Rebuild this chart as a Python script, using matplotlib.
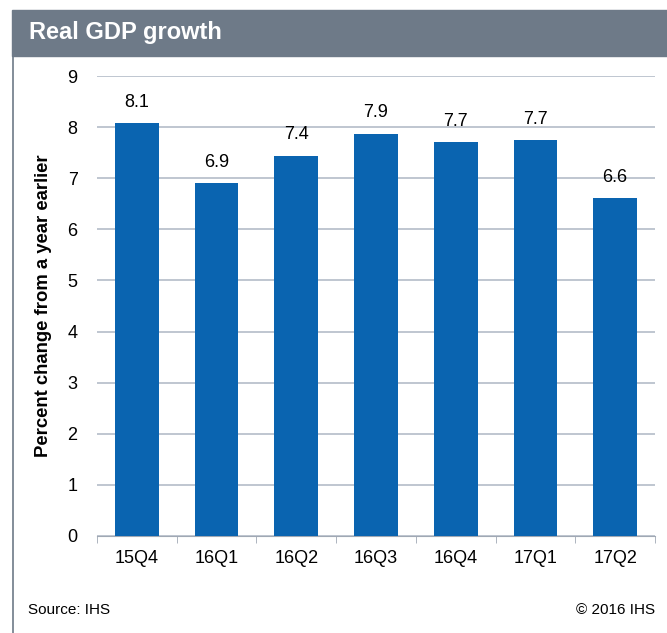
import matplotlib.pyplot as plt
from matplotlib.patches import Rectangle
from matplotlib.lines import Line2D
import numpy as np

plt.rcParams["font.family"] = ["Liberation Sans", "DejaVu Sans"]

quarters = ["15Q4", "16Q1", "16Q2", "16Q3", "16Q4", "17Q1", "17Q2"]
growth = [8.08, 6.91, 7.44, 7.87, 7.70, 7.74, 6.61]
yticks = [0, 1, 2, 3, 4, 5, 6, 7, 8, 9]

W, H = 667, 633
fig = plt.figure(figsize=(W / 100, H / 100), dpi=100)

# title bar and frame line
fig.patches.append(Rectangle((12 / W, 1 - 56 / H), 1 - 12 / W, 46 / H,
                             transform=fig.transFigure, color="#6e7a88", zorder=0))
fig.lines.append(Line2D([12.5 / W, 12.5 / W], [0, 1 - 56 / H],
                        transform=fig.transFigure, color="#6e7a88", lw=1.2))
fig.text(29 / W, 1 - 33 / H, "Real GDP growth", color="white", fontsize=17,
         fontweight="bold", va="center", ha="left")

ax = fig.add_axes([97 / W, 1 - 536 / H, 558 / W, 460 / H])
x = np.arange(len(quarters))
ax.bar(x, growth, width=0.55, color="#0a64b0", zorder=3)
for xi, v in zip(x, growth):
    ax.text(xi, v + 0.24, f"{v:.1f}", ha="center", va="bottom", fontsize=13)

ax.set_xlim(-0.5, len(quarters) - 0.5)
ax.set_ylim(0, 9)
ax.set_yticks(yticks)
ax.yaxis.grid(True, color="#b4bcc8", lw=1.2, zorder=0)
ax.tick_params(axis="y", length=0, labelsize=13, pad=14)
ax.set_xticks(x)
ax.set_xticklabels(quarters)
ax.set_xticks(np.arange(-0.5, len(quarters)), minor=True)
ax.tick_params(axis="x", which="major", length=0, labelsize=13, pad=10)
ax.tick_params(axis="x", which="minor", length=5, color="#a0a8b4")
for s in ["top", "right", "left"]:
    ax.spines[s].set_visible(False)
ax.spines["bottom"].set_color("#a0a8b4")
ax.set_ylabel("Percent change from a year earlier", fontsize=13.3,
              fontweight="bold", labelpad=11)

fig.text(28 / W, 1 - 610 / H, "Source: IHS", fontsize=11, va="center")
fig.text(655 / W, 1 - 610 / H, "\u00a9 2016 IHS", fontsize=11, va="center", ha="right")

fig.savefig("out.png", dpi=100)
